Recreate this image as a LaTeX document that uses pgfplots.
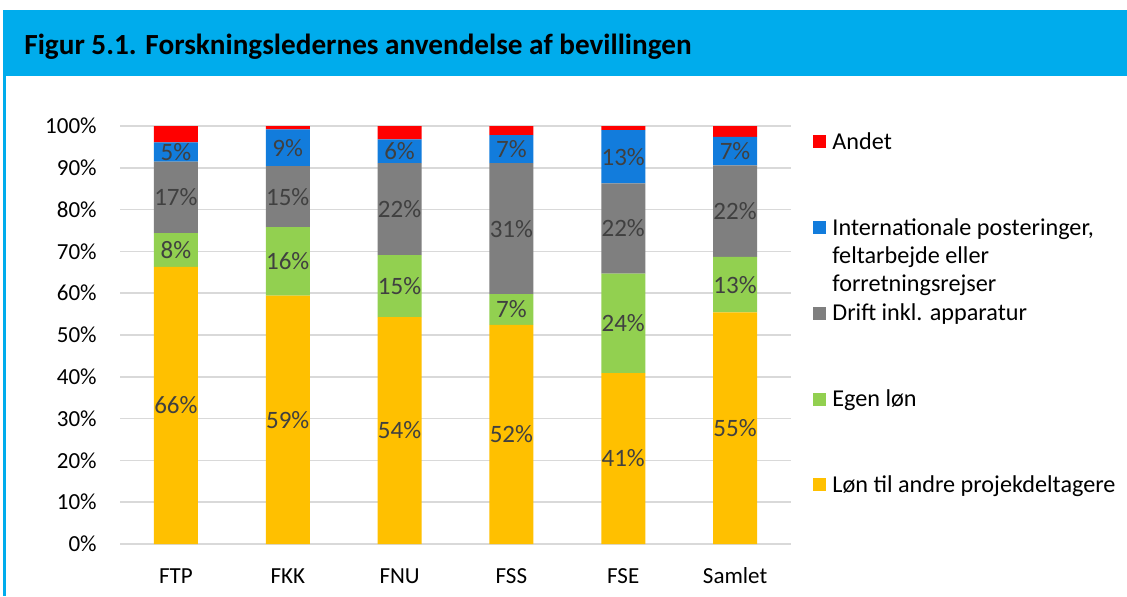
\documentclass[border=0pt]{standalone}
\usepackage{fontspec}
\setmainfont{Carlito}
\usepackage{pgfplots}
\pgfplotsset{compat=1.18}
\usepackage{pgfplotstable}
\definecolor{cLon}{HTML}{FFC000}
\definecolor{cEgen}{HTML}{92D050}
\definecolor{cDrift}{HTML}{7F7F7F}
\definecolor{cInt}{HTML}{127CDC}
\definecolor{cAndet}{HTML}{FF0000}
\definecolor{cTitle}{HTML}{00ACEC}
\definecolor{cLab}{HTML}{404040}
\definecolor{cGrid}{HTML}{D9D9D9}
\pgfplotstableread{
x lon egen drift int andet
0 66.3 8.1 17.1 4.6 3.9
1 59.4 16.4 14.6 8.8 0.8
2 54.3 14.8 22.0 5.7 3.2
3 52.4 7.4 31.3 6.7 2.2
4 40.9 23.8 21.6 12.7 1.0
5 55.4 13.3 21.9 6.8 2.6
}\datatable
\pgfplotsset{
  sqleg/.style={legend image code/.code={\fill[##1] (0pt,0.5pt) rectangle (6.5pt,7pt);}},
  seglab/.style={
    nodes near coords={\pgfmathprintnumber[fixed,precision=0,assume math mode=true]{\pgfplotspointmeta}\%},
    point meta=\thisrow{#1},
    nodes near coords style={anchor=center, inner sep=0pt, text=cLab,
      font=\fontsize{12.5}{14}\selectfont},
  },
}
\begin{document}
\begin{tikzpicture}
\useasboundingbox (0pt,0pt) rectangle (563.5pt,298pt);
\fill[white] (0pt,0pt) rectangle (563.5pt,298pt);
\fill[cTitle] (1.5pt,260pt) rectangle (563.5pt,293pt);
\fill[cTitle] (1.5pt,0pt) rectangle (3pt,260pt);
\node[anchor=base west, inner sep=0pt, font=\fontsize{14.6}{16}\selectfont\bfseries] at (12pt,271pt) {Figur 5.1. Forskningsledernes anvendelse af bevillingen};
\begin{axis}[
  at={(60pt,26pt)}, anchor=south west,
  scale only axis, width=335.5pt, height=209pt,
  ybar stacked, bar width=22pt,
  xmin=-0.5, xmax=5.5, ymin=0, ymax=100,
  axis line style={draw=none},
  major tick length=0pt,
  ymajorgrids, grid style={cGrid, line width=0.75pt},
  xtick={0,1,2,3,4,5},
  xticklabels={FTP,FKK,FNU,FSS,FSE,Samlet},
  ytick={0,10,20,30,40,50,60,70,80,90,100},
  yticklabels={0\%,10\%,20\%,30\%,40\%,50\%,60\%,70\%,80\%,90\%,100\%},
  yticklabel style={anchor=east, inner sep=0pt, xshift=-11.5pt, font=\fontsize{11.5}{14}\selectfont},
  xticklabel style={anchor=north, inner sep=0pt, yshift=-12pt, text height=7.4pt, font=\fontsize{11.5}{14}\selectfont},
  reverse legend,
  legend style={draw=none, fill=none, at={(1.0328,0.9952)}, anchor=north west,
    inner sep=0pt, column sep=1pt, row sep=29pt,
    font=\fontsize{12.1}{14}\selectfont,
    cells={anchor=base west, inner sep=0pt}},
]
\addplot[fill=cLon, draw=none, sqleg, seglab=lon] table[x=x, y=lon] {\datatable};
\addlegendentry{Løn til andre projekdeltagere}
\addplot[fill=cEgen, draw=none, sqleg, seglab=egen] table[x=x, y=egen] {\datatable};
\addlegendentry{Egen løn}
\addplot[fill=cDrift, draw=none, sqleg, seglab=drift] table[x=x, y=drift] {\datatable};
\addlegendentry{Drift inkl. apparatur}
\addplot[fill=cInt, draw=none, sqleg, seglab=int] table[x=x, y=int] {\datatable};
\addlegendentry{\parbox[t]{170pt}{Internationale posteringer,\\feltarbejde eller\\forretningsrejser}}
\addplot[fill=cAndet, draw=none, sqleg] table[x=x, y=andet] {\datatable};
\addlegendentry{Andet}
\end{axis}
\end{tikzpicture}
\end{document}
